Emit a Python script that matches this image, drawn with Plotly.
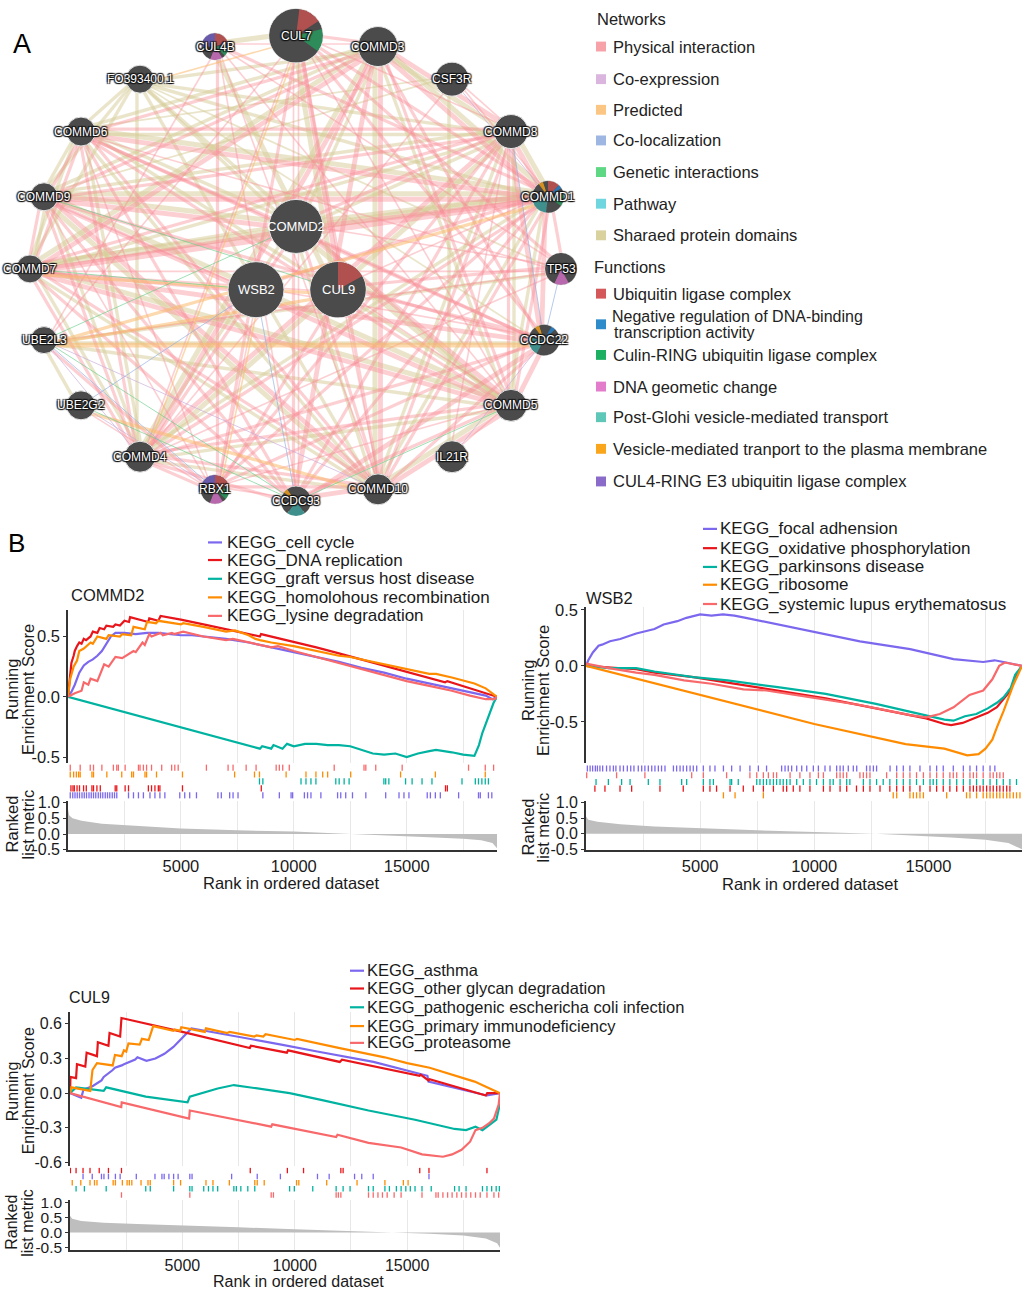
import plotly.graph_objects as go

W, H = 1024, 1296
FONT = "Liberation Sans, Arial, Helvetica, sans-serif"


def fx(p):
    return p / W


def fy(p):
    return 1 - p / H


# ====================== Panel A : GeneMANIA network ======================
NODE_NAMES = ["CUL7", "CUL4B", "COMMD3", "FO393400.1", "CSF3R", "COMMD6", "COMMD8",
              "COMMD9", "COMMD1", "COMMD2", "COMMD7", "TP53", "WSB2", "CUL9", "UBE2L3",
              "CCDC22", "UBE2G2", "COMMD5", "COMMD4", "IL21R", "RBX1", "CCDC93", "COMMD10"]
NODE_X = [296, 215, 378, 140, 452, 81, 511, 44, 548, 296, 30, 561, 256, 338, 44,
          544, 81, 511, 140, 452, 215, 296, 378]
NODE_Y = [29, 40, 40, 73, 73, 126, 126, 192, 192, 222, 265, 265, 286, 286, 337,
          337, 403, 403, 455, 455, 488, 500, 488]
NODE_R = [27, 13.5, 20, 14, 17, 14.5, 17, 14, 16, 27, 14, 16, 28, 28, 13.5,
          15.5, 14.5, 16, 15.5, 16, 14.5, 15, 15.5]
QUERY_NODES = ["COMMD2", "WSB2", "CUL9"]

COMMD_PAIRS = """COMMD1 COMMD2 3; COMMD1 COMMD3 3; COMMD1 COMMD4 2; COMMD1 COMMD5 2; COMMD1 COMMD6 3;
COMMD1 COMMD7 4; COMMD1 COMMD8 3; COMMD1 COMMD9 3; COMMD1 COMMD10 2; COMMD2 COMMD3 2; COMMD2 COMMD4 2;
COMMD2 COMMD5 3; COMMD2 COMMD6 2; COMMD2 COMMD7 2; COMMD2 COMMD8 2; COMMD2 COMMD9 3; COMMD2 COMMD10 2;
COMMD3 COMMD4 3; COMMD3 COMMD5 2; COMMD3 COMMD6 2; COMMD3 COMMD7 3; COMMD3 COMMD8 3; COMMD3 COMMD9 2;
COMMD3 COMMD10 3; COMMD4 COMMD5 2; COMMD4 COMMD6 2; COMMD4 COMMD7 2; COMMD4 COMMD8 3; COMMD4 COMMD9 2;
COMMD4 COMMD10 2; COMMD5 COMMD6 2; COMMD5 COMMD7 3; COMMD5 COMMD8 2; COMMD5 COMMD9 3; COMMD5 COMMD10 3;
COMMD6 COMMD7 2; COMMD6 COMMD8 2; COMMD6 COMMD9 2; COMMD6 COMMD10 2; COMMD7 COMMD8 2; COMMD7 COMMD9 2;
COMMD7 COMMD10 2; COMMD8 COMMD9 2; COMMD8 COMMD10 2; COMMD9 COMMD10 3"""

PHYSICAL_EXTRA = """CCDC22 COMMD1 3; CCDC22 COMMD2 2; CCDC22 COMMD3 2; CCDC22 COMMD4 2; CCDC22 COMMD5 3;
CCDC22 COMMD6 2; CCDC22 COMMD7 3; CCDC22 COMMD8 3; CCDC22 COMMD9 2; CCDC22 COMMD10 2;
CCDC93 COMMD1 2; CCDC93 COMMD2 2; CCDC93 COMMD3 3; CCDC93 COMMD4 2; CCDC93 COMMD5 2; CCDC93 COMMD6 2;
CCDC93 COMMD7 2; CCDC93 COMMD8 2; CCDC93 COMMD9 2; CCDC93 COMMD10 3; CCDC22 CCDC93 3;
CUL7 RBX1 2; CUL4B RBX1 2; CUL9 RBX1 2; CUL7 CUL9 3; CUL7 TP53 2; CUL9 TP53 2; COMMD1 TP53 2;
RBX1 UBE2L3 2; RBX1 UBE2G2 1; CUL7 UBE2L3 1; CUL4B UBE2L3 1; CUL7 COMMD1 2; CUL4B COMMD1 2;
RBX1 COMMD1 2; CUL9 COMMD1 1; CUL7 COMMD3 2; CUL4B COMMD3 1; RBX1 COMMD10 2; RBX1 COMMD4 2;
RBX1 COMMD5 1; RBX1 COMMD8 2; RBX1 COMMD6 1; RBX1 COMMD9 1; RBX1 CCDC22 2; RBX1 CCDC93 1;
CUL7 CCDC22 2; CUL4B CCDC93 1; TP53 UBE2L3 1; CUL4B TP53 1; COMMD2 CUL7 1; CUL7 COMMD8 1;
CUL7 COMMD5 1; CUL4B COMMD10 1; WSB2 RBX1 1; CSF3R COMMD8 1; CSF3R COMMD1 1; IL21R COMMD5 1;
WSB2 COMMD1 2; WSB2 CCDC22 1; WSB2 COMMD7 2; WSB2 COMMD9 1; CUL9 CCDC22 2; CUL9 COMMD5 1;
CUL9 COMMD10 1; CUL9 COMMD7 1; CUL7 COMMD4 1; CUL7 COMMD10 2; CUL4B COMMD5 1; TP53 COMMD7 1;
TP53 COMMD4 1; TP53 COMMD6 1; CUL7 CCDC93 1; COMMD2 TP53 1; IL21R COMMD8 1; CSF3R COMMD4 1"""

SHARED_EXTRA = """FO393400.1 COMMD1 2; FO393400.1 COMMD2 2; FO393400.1 COMMD3 2; FO393400.1 COMMD4 2;
FO393400.1 COMMD5 2; FO393400.1 COMMD6 2; FO393400.1 COMMD7 2; FO393400.1 COMMD8 2;
FO393400.1 COMMD9 2; FO393400.1 COMMD10 2; CUL7 CUL4B 3; CUL7 CUL9 3; CUL4B CUL9 3;
UBE2L3 UBE2G2 2; CSF3R IL21R 2; UBE2L3 CCDC22 2; UBE2L3 COMMD5 2; UBE2L3 TP53 2;
CSF3R COMMD6 1; CSF3R COMMD9 1; FO393400.1 CCDC22 1; FO393400.1 TP53 1"""

PREDICTED_EDGES = """UBE2L3 CCDC22 3; UBE2L3 COMMD1 2; UBE2G2 COMMD10 2; RBX1 WSB2 1; COMMD7 CUL9 2;
FO393400.1 CUL7 1; UBE2L3 CUL9 2; COMMD4 CUL7 1"""
GENETIC_EDGES = "COMMD9 CUL9 1; UBE2L3 CCDC93 1; COMMD7 WSB2 1; UBE2G2 CCDC93 1; CCDC93 COMMD5 1; UBE2L3 COMMD2 1"
COLOCALIZATION_EDGES = "UBE2L3 RBX1 1; UBE2G2 WSB2 1; TP53 CCDC22 1; WSB2 CCDC93 1; COMMD8 CCDC22 1"
COEXPRESSION_EDGES = "UBE2L3 COMMD4 1; UBE2G2 RBX1 1; CSF3R COMMD1 1; IL21R CCDC22 1; UBE2L3 COMMD10 1"

# function slices on nodes (fraction, function key), clockwise from 12 o'clock
NODE_SLICES = {
    "CUL7": [(0.02, "dark"), (0.14, "ubq"), (0.05, "dark"), (0.14, "culin"), (0.65, "dark")],
    "CUL4B": [(0.2, "ubq"), (0.04, "dark"), (0.13, "culin"), (0.04, "dark"), (0.15, "dna"),
              (0.19, "dark"), (0.25, "cul4")],
    "COMMD1": [(0.12, "ubq"), (0.04, "neg"), (0.06, "dark"), (0.13, "culin"), (0.17, "dark"),
               (0.18, "golgi"), (0.2, "dark"), (0.05, "vesicle"), (0.05, "dark")],
    "CUL9": [(0.17, "ubq"), (0.83, "dark")],
    "TP53": [(0.42, "dark"), (0.15, "dna"), (0.43, "dark")],
    "CCDC22": [(0.08, "dark"), (0.05, "neg"), (0.45, "dark"), (0.2, "golgi"), (0.12, "dark"),
               (0.05, "vesicle"), (0.05, "dark")],
    "RBX1": [(0.2, "ubq"), (0.04, "dark"), (0.13, "culin"), (0.04, "dark"), (0.15, "dna"),
             (0.19, "dark"), (0.25, "cul4")],
    "CCDC93": [(0.4, "dark"), (0.2, "golgi"), (0.25, "dark"), (0.05, "vesicle"), (0.1, "dark")],
}
SLICE_COLORS = {"dark": "#4b4b4b", "ubq": "#b0504f", "neg": "#2a78b5", "culin": "#2e8b5a",
                "dna": "#b868ac", "golgi": "#3f8f8d", "vesicle": "#d49020", "cul4": "#6a5aaa"}

NETWORK_LEGEND = ["Physical interaction", "Co-expression", "Predicted", "Co-localization",
                  "Genetic interactions", "Pathway", "Sharaed protein domains"]
NETWORK_COLORS = ["#f6a2a8", "#dab6de", "#fbc683", "#9db6e2", "#5ed882", "#6fd6e0", "#d9d19e"]
NETWORK_ROWS_Y = [40, 73, 104, 135, 167, 199, 231]
FUNCTION_LEGEND = ["Ubiquitin ligase complex",
                   "Negative regulation of DNA-binding\ntranscription activity",
                   "Culin-RING ubiquitin ligase complex", "DNA geometic change",
                   "Post-Glohi vesicle-mediated transport",
                   "Vesicle-mediated tranport to the plasma membrane",
                   "CUL4-RING E3 ubiquitin ligase complex"]
FUNCTION_COLORS = ["#d4575a", "#2f8ccb", "#1daf62", "#e37dcb", "#5fc7b8", "#f9a61d", "#8a6bc9"]
FUNCTION_ROWS_Y = [290, 321, 352, 384, 415, 447, 480]

# ====================== Panel B : GSEA ======================
# ---- COMMD2 ----
COMMD2_SETS = ["KEGG_cell cycle", "KEGG_DNA replication", "KEGG_graft versus host disease",
               "KEGG_homolohous recombination", "KEGG_lysine degradation"]
C2_CC_X = [0, 150, 300, 500, 700, 900, 1100, 1300, 1500, 1700, 1900, 2100, 2500, 3000, 3500, 4000,
           4500, 5000, 5500, 6000, 7000, 8000, 9000, 10000, 11000, 12000, 13000, 14000, 15000, 16000,
           17000, 18000, 18500, 18800, 19000]
C2_CC_Y = [0, 0.04, 0.10, 0.20, 0.26, 0.29, 0.31, 0.34, 0.38, 0.44, 0.50, 0.53, 0.53, 0.52, 0.53, 0.53,
           0.52, 0.51, 0.51, 0.50, 0.48, 0.45, 0.41, 0.37, 0.33, 0.29, 0.24, 0.20, 0.15, 0.11, 0.07,
           0.03, 0.01, -0.02, 0.0]
C2_DNA_X = [0, 100, 150, 250, 300, 400, 500, 600, 700, 800, 1000, 1100, 1300, 1400, 1600, 1700, 2000,
            2100, 2300, 2500, 2700, 2750, 3200, 3550, 3600, 4000, 4100, 5000, 6000, 7000, 8000, 8500,
            8550, 9000, 10000, 11000, 12000, 13000, 14000, 15000, 16000, 16700, 16800, 17500, 18000,
            18500, 19000]
C2_DNA_Y = [0, 0.20, 0.28, 0.34, 0.38, 0.42, 0.45, 0.44, 0.48, 0.47, 0.50, 0.54, 0.53, 0.57, 0.56, 0.59,
            0.58, 0.60, 0.59, 0.63, 0.62, 0.66, 0.64, 0.62, 0.65, 0.63, 0.67, 0.64, 0.60, 0.56, 0.52, 0.50,
            0.52, 0.50, 0.45, 0.41, 0.36, 0.31, 0.26, 0.21, 0.16, 0.12, 0.13, 0.09, 0.06, 0.03, 0.0]
C2_GV_X = [0, 2000, 4000, 6000, 8500, 8600, 9000, 9100, 9500, 9700, 10000, 10500, 11000, 11500, 12000,
           12500, 13000, 13500, 14000, 14500, 15000, 15500, 16000, 16300, 17000, 17500, 18000, 18200,
           18350, 18500, 18700, 18850, 19000]
C2_GV_Y = [0, -0.10, -0.20, -0.30, -0.43, -0.41, -0.43, -0.40, -0.43, -0.39, -0.41, -0.39, -0.39, -0.40,
           -0.40, -0.41, -0.44, -0.47, -0.48, -0.47, -0.50, -0.47, -0.45, -0.44, -0.46, -0.48, -0.49,
           -0.40, -0.30, -0.22, -0.12, -0.05, 0.0]
C2_HR_X = [0, 100, 250, 400, 500, 700, 1000, 1100, 1300, 1700, 1800, 2300, 2400, 2800, 2900, 3400,
           3500, 3900, 4000, 5000, 5100, 6000, 7000, 7400, 8000, 8300, 8500, 9000, 10000, 11000, 12000,
           12500, 13000, 14000, 14700, 15000, 16000, 16300, 17000, 18000, 18500, 19000]
C2_HR_Y = [0, 0.15, 0.25, 0.30, 0.38, 0.40, 0.45, 0.44, 0.50, 0.48, 0.51, 0.50, 0.52, 0.51, 0.58, 0.56,
           0.62, 0.61, 0.63, 0.60, 0.61, 0.58, 0.54, 0.55, 0.51, 0.48, 0.47, 0.45, 0.42, 0.38, 0.34, 0.33,
           0.31, 0.27, 0.24, 0.23, 0.19, 0.19, 0.16, 0.11, 0.07, 0.0]
C2_LY_X = [0, 300, 600, 700, 900, 1000, 1300, 1600, 1800, 2100, 2400, 2900, 3000, 3300, 3400, 3600,
           3700, 4100, 4200, 4600, 4700, 5100, 6000, 7000, 7300, 8000, 9000, 9300, 10000, 11000, 12000,
           13000, 14000, 15000, 16000, 17000, 17800, 18500, 18900, 19000]
C2_LY_Y = [0, 0.03, 0.05, 0.12, 0.10, 0.15, 0.13, 0.27, 0.25, 0.33, 0.32, 0.38, 0.37, 0.45, 0.43, 0.52,
           0.50, 0.53, 0.51, 0.53, 0.52, 0.54, 0.50, 0.47, 0.48, 0.45, 0.41, 0.42, 0.38, 0.33, 0.28, 0.23,
           0.18, 0.13, 0.09, 0.05, 0.01, -0.02, -0.02, 0.0]
C2_HIT_CC = [100, 210, 310, 410, 510, 620, 720, 820, 930, 1030, 1130, 1230, 1340, 1440, 1540, 1650, 1750,
             1850, 1960, 2060, 2160, 2680, 2900, 3120, 3340, 3630, 3850, 4070, 4290, 4950, 5170, 5390,
             5690, 6640, 6790, 7160, 7310, 7530, 8630, 9360, 9880, 9950, 10470, 10610, 10760, 11200,
             11940, 12080, 12300, 12600, 13190, 14070, 14660, 14880, 15100, 15910, 16050, 16270, 16490,
             17300, 18180, 18260, 18620, 18770]
C2_HIT_DNA = [130, 220, 280, 400, 510, 690, 810, 1060, 1130, 1280, 1430, 2090, 2160, 2530, 2680, 3560,
              3700, 3850, 4000, 4070, 5070, 8560, 16720, 16800]
C2_HIT_GV = [8480, 8630, 10320, 10540, 10760, 10980, 11860, 12010, 12230, 12450, 13990, 14070, 14210,
             14950, 15240, 15680, 16120, 17450, 18040, 18180, 18330, 18480, 18620]
C2_HIT_HR = [100, 250, 370, 470, 540, 1060, 1130, 1720, 2380, 2820, 2900, 3410, 3480, 3920, 5070, 7380,
             8260, 8480, 9660, 10540, 10980, 11280, 11500, 12520, 14730, 16270, 18480]
C2_HIT_LY = [100, 540, 985, 1130, 1500, 2010, 2160, 2230, 2530, 3120, 3190, 3340, 3480, 3700, 4150,
             4590, 4730, 4880, 6130, 7090, 7310, 7890, 8330, 9220, 9360, 9510, 9800, 11790, 13110,
             13190, 13630, 14800, 17740, 18480, 18850]
C2_METRIC_X = [0, 50, 200, 600, 1500, 3000, 5000, 7500, 10000, 12000, 14000, 16000, 17500, 18300,
               18800, 19000]
C2_METRIC_Y = [0.8, 0.6, 0.5, 0.42, 0.33, 0.26, 0.18, 0.12, 0.08, 0.02, -0.03, -0.10, -0.15, -0.20,
               -0.28, -0.45]

# ---- WSB2 ----
WSB2_SETS = ["KEGG_focal adhension", "KEGG_oxidative phosphorylation", "KEGG_parkinsons disease",
             "KEGG_ribosome", "KEGG_systemic lupus erythematosus"]
W2_FA_X = [0, 100, 300, 550, 700, 1050, 1500, 2200, 3000, 3400, 4000, 4400, 5000, 5500, 6000, 6500,
           7000, 8400, 9800, 12000, 14200, 16100, 17400, 17900, 18400, 19100]
W2_FA_Y = [0, 0.05, 0.12, 0.18, 0.19, 0.22, 0.24, 0.29, 0.33, 0.37, 0.40, 0.43, 0.46, 0.45, 0.46, 0.45,
           0.43, 0.37, 0.31, 0.22, 0.15, 0.06, 0.035, 0.05, 0.03, 0.0]
W2_OX_X = [0, 1000, 2200, 3000, 4700, 6200, 8400, 10500, 12700, 14900, 15700, 16000, 16500, 17100,
           17600, 18000, 18300, 18600, 18800, 19100]
W2_OX_Y = [0, -0.015, -0.03, -0.06, -0.10, -0.15, -0.22, -0.29, -0.38, -0.47, -0.52, -0.53, -0.51,
           -0.46, -0.42, -0.37, -0.30, -0.22, -0.10, 0.0]
W2_PD_X = [0, 1000, 2200, 3000, 4700, 6200, 8400, 10500, 12700, 14900, 15700, 16100, 16600, 17100,
           17600, 18000, 18300, 18600, 18800, 19100]
W2_PD_Y = [0, -0.02, -0.02, -0.05, -0.10, -0.13, -0.19, -0.25, -0.34, -0.44, -0.48, -0.49, -0.45,
           -0.43, -0.38, -0.33, -0.28, -0.20, -0.08, 0.0]
W2_RB_X = [0, 5000, 10000, 14000, 15700, 16700, 17200, 17500, 17800, 18000, 18300, 18700, 19100]
W2_RB_Y = [0, -0.26, -0.52, -0.70, -0.74, -0.80, -0.79, -0.74, -0.66, -0.55, -0.40, -0.18, 0.0]
W2_SL_X = [0, 1000, 2200, 3000, 4300, 5500, 6900, 7900, 9800, 12000, 14200, 14900, 15500, 16100,
           16800, 17400, 17800, 18100, 18350, 19100]
W2_SL_Y = [0.02, -0.02, -0.06, -0.08, -0.13, -0.16, -0.21, -0.22, -0.28, -0.35, -0.44, -0.46, -0.43,
           -0.37, -0.26, -0.22, -0.12, 0.0, 0.03, 0.0]
W2_HIT_FA = [60, 180, 290, 410, 500, 610, 730, 900, 1050, 1200, 1310, 1490, 1640, 1810, 1960, 2100,
             2290, 2440, 2580, 2730, 2880, 3020, 3170, 3310, 3460, 3830, 3970, 4120, 4260, 4410, 4560,
             4700, 4850, 5140, 5430, 5650, 6020, 6380, 6750, 7180, 7550, 7910, 8570, 8720, 8860, 9010,
             9230, 9450, 9670, 9960, 10180, 10470, 10690, 10980, 11130, 11270, 11490, 11710, 11860,
             12290, 12440, 12590, 12730, 13320, 13610, 13900, 14190, 14630, 15070, 15360, 15650, 16090,
             16530, 16820, 17110, 17400, 17700, 17910]
W2_HIT_OX = [390, 830, 1490, 2000, 3240, 4260, 5140, 5430, 5720, 6310, 6890, 7330, 7770, 8210, 8640,
             8790, 9080, 9370, 9810, 10400, 10690, 11130, 11420, 11850, 12150, 12440, 12880, 13310,
             13610, 13900, 14190, 14630, 15070, 15360, 15650, 15940, 16240, 16530, 16820, 16970, 17110,
             17260, 17400, 17550, 17700, 17840, 17990, 18130, 18280, 18430, 18570]
W2_HIT_PD = [440, 980, 1560, 1930, 2730, 3240, 4190, 4410, 5140, 5430, 5580, 6310, 6380, 6670, 7480,
             7620, 7770, 7910, 8060, 8210, 8350, 8500, 8640, 8790, 8940, 9230, 9520, 9810, 10100, 10400,
             10690, 10830, 11130, 11420, 11560, 12150, 12440, 12730, 13020, 13310, 13610, 13900, 14190,
             14480, 14780, 15070, 15210, 15360, 15650, 15940, 16240, 16530, 16820, 17110, 17400, 17700,
             17990, 18280, 18570, 18860]
W2_HIT_RB = [6020, 6530, 7770, 13460, 13610, 14190, 14340, 14480, 14630, 14780, 15800, 16670, 16820,
             17110, 17400, 17550, 17700, 17840, 17990, 18130, 18280, 18430, 18570, 18720, 18860, 19010]
W2_HIT_SL = [30, 1340, 2580, 4630, 5140, 6160, 7180, 7480, 7770, 7990, 8210, 8350, 8940, 9370, 9810,
             10180, 10400, 10980, 11130, 11270, 11420, 12000, 12150, 12290, 12440, 13170, 13610, 13900,
             14190, 14480, 14780, 15070, 15360, 15650, 15940, 16090, 16240, 16530, 16820, 16970, 17110,
             17400, 17700, 17840, 17990, 18130, 18280]
W2_METRIC_X = [0, 100, 500, 1500, 3000, 5000, 7500, 10000, 12700, 14500, 16000, 17500, 18500, 19100]
W2_METRIC_Y = [0.55, 0.45, 0.38, 0.30, 0.23, 0.17, 0.11, 0.05, 0.0, -0.07, -0.12, -0.20, -0.30, -0.50]

# ---- CUL9 ----
CUL9_SETS = ["KEGG_asthma", "KEGG_other glycan degradation", "KEGG_pathogenic escherícha coli infection",
             "KEGG_primary immunodeficiency", "KEGG_proteasome"]
CUL9_SETS[2] = "KEGG_pathogenic escherícha coli infection".replace("í", "i")
U9_AS_X = [0, 500, 600, 1000, 1400, 1500, 1900, 2000, 2300, 2400, 2900, 3000, 3400, 3800, 4200, 4600,
           5000, 5400, 6000, 7200, 8300, 9400, 11000, 12600, 13500, 15900, 15950, 18550, 19130]
U9_AS_Y = [0, -0.04, 0.03, 0.06, 0.11, 0.14, 0.20, 0.22, 0.24, 0.25, 0.29, 0.31, 0.28, 0.30, 0.34, 0.40,
           0.48, 0.56, 0.54, 0.50, 0.46, 0.42, 0.36, 0.30, 0.27, 0.15, 0.10, -0.02, 0.0]
U9_OG_X = [0, 20, 270, 310, 680, 740, 1200, 1240, 1710, 1760, 2230, 2290, 5000, 8000, 8050, 9650, 9700,
           12000, 12100, 15550, 15600, 15950, 16000, 18500, 18560, 19130]
U9_OG_Y = [0, 0.14, 0.13, 0.25, 0.23, 0.35, 0.32, 0.44, 0.41, 0.52, 0.49, 0.65, 0.53, 0.39, 0.41, 0.35,
           0.37, 0.27, 0.29, 0.15, 0.16, 0.11, 0.12, -0.02, 0.0, 0.0]
U9_EC_X = [0, 270, 1500, 1610, 3370, 4610, 5230, 5330, 5850, 6260, 6570, 7290, 8330, 9770, 11220,
           13280, 15350, 17110, 17620, 18040, 18350, 18760, 18970, 19130]
U9_EC_Y = [0, 0.05, 0.02, 0.05, -0.03, -0.06, -0.08, -0.03, 0.0, 0.02, 0.04, 0.07, 0.04, 0.0, -0.06,
           -0.15, -0.23, -0.31, -0.32, -0.29, -0.32, -0.26, -0.23, -0.09]
U9_PI_X = [0, 60, 900, 1000, 1200, 1900, 2000, 2300, 2400, 2500, 2600, 3100, 3200, 3500, 3600, 3700,
           4600, 4650, 4900, 4950, 6000, 6050, 7000, 7100, 8200, 8300, 8600, 8700, 10000, 10100, 12000,
           14000, 15000, 16000, 18000, 19130]
U9_PI_Y = [0, 0.05, 0.02, 0.20, 0.26, 0.24, 0.33, 0.32, 0.37, 0.36, 0.43, 0.42, 0.47, 0.46, 0.52, 0.58,
           0.54, 0.55, 0.54, 0.57, 0.53, 0.56, 0.52, 0.53, 0.49, 0.50, 0.49, 0.51, 0.46, 0.47, 0.39, 0.31,
           0.26, 0.22, 0.10, 0.0]
U9_PR_X = [0, 2280, 2300, 5300, 5330, 8950, 9000, 11840, 11900, 13280, 14730, 15660, 16590, 17000,
           17420, 17800, 18040, 18350, 18650, 18860, 19070, 19130]
U9_PR_Y = [0, -0.12, -0.08, -0.22, -0.15, -0.29, -0.27, -0.38, -0.36, -0.43, -0.47, -0.53, -0.55, -0.53,
           -0.49, -0.42, -0.32, -0.30, -0.26, -0.22, -0.10, 0.0]
U9_HIT_AS = [580, 990, 1400, 1510, 1710, 2020, 2230, 2950, 3780, 4090, 4190, 4400, 4610, 4810, 5330,
             5430, 7190, 8330, 9360, 11010, 11530, 12660, 12980, 13490, 15970]
U9_HIT_OG = [20, 270, 580, 890, 1300, 1710, 2290, 8020, 9670, 10390, 12050, 12150, 15560, 15970, 18550]
U9_HIT_EC = [270, 640, 1610, 3370, 3570, 4610, 5330, 5430, 5950, 6160, 6360, 6570, 7290, 7400, 7600,
             7910, 8220, 9770, 9980, 10800, 11840, 12150, 12460, 13280, 13490, 14010, 14210, 14520,
             14730, 14940, 15140, 15350, 15660, 16070, 17110, 17310, 17620, 18350, 18550, 18760, 18960,
             19100]
U9_HIT_PI = [100, 480, 890, 1090, 1200, 1920, 2020, 2330, 2540, 2640, 2750, 3160, 3470, 3570, 4610,
             4920, 6050, 6360, 7090, 8220, 8330, 8640, 10080, 10180, 11420, 12770, 14010, 14830, 15040]
U9_HIT_PR = [2290, 5330, 8950, 9050, 11840, 11940, 12050, 13280, 13490, 13700, 13900, 14110, 14420,
             14730, 15660, 16280, 16380, 16590, 16800, 17000, 17210, 17420, 17620, 17830, 18040, 18250,
             18550, 18860, 19070]
U9_METRIC_X = [0, 100, 500, 1500, 3000, 5000, 7500, 10000, 12500, 14500, 16000, 17500, 18500, 19000,
               19130]
U9_METRIC_Y = [0.55, 0.45, 0.38, 0.32, 0.28, 0.24, 0.17, 0.11, 0.05, 0.0, -0.04, -0.10, -0.20, -0.35,
               -0.50]

SET_COLORS = ["#7b68ee", "#e8161b", "#00b3a1", "#ff8c00", "#f8696b"]
X_TICKVALS = [2500, 5000, 7500, 10000, 12500, 15000, 17500]
X_TICKTEXT = ["", "5000", "", "10000", "", "15000", ""]

# ====================== build figure ======================
fig = go.Figure()
layout = dict(width=W, height=H, autosize=False, margin=dict(l=0, r=0, t=0, b=0),
              paper_bgcolor="white", plot_bgcolor="rgba(0,0,0,0)", showlegend=False,
              font=dict(family=FONT, color="#1a1a1a"))
annotations = []
shapes = []

# ---------- network ----------
layout["xaxis10"] = dict(domain=[0, fx(580)], range=[0, 580], visible=False, fixedrange=True)
layout["yaxis10"] = dict(domain=[fy(510), 1], range=[510, 0], visible=False, fixedrange=True)
pos = {n: (x, y) for n, x, y in zip(NODE_NAMES, NODE_X, NODE_Y)}


def parse_edges(s):
    out = []
    for item in s.replace("\n", " ").split(";"):
        item = item.strip()
        if item:
            a, b, w = item.split()
            out.append((a, b, float(w)))
    return out


def add_edges(edges, color, offset, wscale):
    by_w = {}
    for a, b, w in edges:
        by_w.setdefault(w, []).append((a, b))
    for w, pairs in by_w.items():
        xs, ys = [], []
        for a, b in pairs:
            (x1, y1), (x2, y2) = pos[a], pos[b]
            dx, dy = x2 - x1, y2 - y1
            L = (dx * dx + dy * dy) ** 0.5
            ox, oy = -dy / L * offset, dx / L * offset
            xs += [x1 + ox, x2 + ox, None]
            ys += [y1 + oy, y2 + oy, None]
        fig.add_trace(go.Scatter(x=xs, y=ys, mode="lines", xaxis="x10", yaxis="y10",
                                 line=dict(color=color, width=w * wscale), hoverinfo="skip",
                                 showlegend=False))


add_edges(parse_edges(COMMD_PAIRS) + parse_edges(SHARED_EXTRA), "rgba(214,204,150,0.5)", 3.0, 1.7)
add_edges(parse_edges(COMMD_PAIRS) + parse_edges(PHYSICAL_EXTRA), "rgba(248,140,150,0.42)", -2.5, 1.6)
add_edges(parse_edges(PREDICTED_EDGES), "rgba(250,185,110,0.55)", 5, 1.6)
add_edges(parse_edges(GENETIC_EDGES), "rgba(100,205,135,0.7)", 0, 0.9)
add_edges(parse_edges(COLOCALIZATION_EDGES), "rgba(140,170,225,0.7)", 0, 0.9)
add_edges(parse_edges(COEXPRESSION_EDGES), "rgba(200,165,215,0.7)", 0, 0.9)

# nodes
fig.add_trace(go.Scatter(x=NODE_X, y=NODE_Y, mode="markers", xaxis="x10", yaxis="y10",
                         marker=dict(size=[2 * r for r in NODE_R], color="#4b4b4b", opacity=1,
                                     line=dict(color="#e6e6e6", width=1)),
                         hoverinfo="skip", showlegend=False))
for name, slices in NODE_SLICES.items():
    i = NODE_NAMES.index(name)
    cx, cy, r = NODE_X[i], NODE_Y[i], NODE_R[i]
    fig.add_trace(go.Pie(values=[s[0] for s in slices],
                         marker=dict(colors=[SLICE_COLORS[s[1]] for s in slices],
                                     line=dict(width=0)),
                         domain=dict(x=[fx(cx - r), fx(cx + r)], y=[fy(cy + r), fy(cy - r)]),
                         sort=False, direction="clockwise", rotation=0, textinfo="none",
                         hoverinfo="skip", showlegend=False))

SHADOW = "1px 1px 1px #111, -1px -1px 1px #111, 1px -1px 1px #111, -1px 1px 1px #111"
for n, x, y in zip(NODE_NAMES, NODE_X, NODE_Y):
    if n in QUERY_NODES:
        f = dict(size=13, color="white", family=FONT)
    else:
        f = dict(size=12, color="white", family=FONT, shadow=SHADOW)
    annotations.append(dict(x=x, y=y, xref="x10", yref="y10", text=n, showarrow=False,
                            font=f, xanchor="center", yanchor="middle"))

# network legend
NL_FONT = 16.5
annotations.append(dict(x=fx(595), y=fy(12), xref="paper", yref="paper", text="Networks",
                        showarrow=False, xanchor="left", yanchor="middle",
                        font=dict(size=16.5, color="#222")))
annotations.append(dict(x=fx(592), y=fy(263), xref="paper", yref="paper", text="Functions",
                        showarrow=False, xanchor="left", yanchor="middle",
                        font=dict(size=16.5, color="#222")))


def legend_block(labels, colors, rows):
    for lab, col, yy in zip(labels, colors, rows):
        shapes.append(dict(type="rect", xref="paper", yref="paper", x0=fx(596), x1=fx(606),
                           y0=fy(yy + 5), y1=fy(yy - 5), fillcolor=col, line=dict(width=0)))
        lines = lab.split("\n")
        if len(lines) == 1:
            annotations.append(dict(x=fx(611), y=fy(yy), xref="paper", yref="paper", text=lab,
                                    showarrow=False, xanchor="left", yanchor="middle",
                                    font=dict(size=NL_FONT, color="#222")))
        else:
            for k, ln in enumerate(lines):
                annotations.append(dict(x=fx(610 + k * 2), y=fy(yy - 8 + k * 16), xref="paper",
                                        yref="paper", text=ln, showarrow=False, xanchor="left",
                                        yanchor="middle", font=dict(size=NL_FONT - 0.5, color="#222")))


legend_block(NETWORK_LEGEND, NETWORK_COLORS, NETWORK_ROWS_Y)
legend_block(FUNCTION_LEGEND, FUNCTION_COLORS, FUNCTION_ROWS_Y)

annotations.append(dict(x=fx(11), y=fy(37), xref="paper", yref="paper", text="A", showarrow=False,
                        xanchor="left", yanchor="middle", font=dict(size=27, color="black")))
annotations.append(dict(x=fx(6), y=fy(542), xref="paper", yref="paper", text="B", showarrow=False,
                        xanchor="left", yanchor="middle", font=dict(size=26, color="black")))


# ---------- GSEA plots ----------
def axname(n):
    return "" if n == 1 else str(n)


def vtext(x, y, text, size):
    annotations.append(dict(x=fx(x), y=fy(y), xref="paper", yref="paper", text=text,
                            showarrow=False, textangle=-90, xanchor="center", yanchor="middle",
                            font=dict(size=size, color="#1a1a1a")))


def add_gsea(idx, spec):
    gf = spec["font"]
    n_es, n_hit, n_met = 3 * idx + 1, 3 * idx + 2, 3 * idx + 3
    x0, x1 = spec["dom_x"]
    xr = [0, spec["xmax"]]
    xdom = [fx(x0), fx(x1)]
    axis_line = dict(showline=True, linecolor="#333333", linewidth=1.6)
    common_x = dict(domain=xdom, range=xr, tickvals=X_TICKVALS, ticktext=X_TICKTEXT,
                    showgrid=True, gridcolor="#e8e8e8", gridwidth=1, zeroline=False, ticks="",
                    fixedrange=True)
    layout["xaxis" + axname(n_es)] = dict(common_x, showticklabels=False, anchor="y" + axname(n_es))
    layout["yaxis" + axname(n_es)] = dict(domain=[fy(spec["es_dom"][1]), fy(spec["es_dom"][0])],
                                          range=spec["es_range"], tickvals=spec["es_ticks"],
                                          ticktext=spec["es_ticktext"], ticks="outside", ticklen=3,
                                          tickcolor="#333", tickfont=dict(size=gf, color="#1a1a1a"),
                                          showgrid=False, zeroline=False, anchor="x" + axname(n_es),
                                          fixedrange=True, **axis_line)
    layout["xaxis" + axname(n_hit)] = dict(domain=xdom, range=xr, visible=False, fixedrange=True,
                                           anchor="y" + axname(n_hit))
    layout["yaxis" + axname(n_hit)] = dict(domain=[fy(spec["hit_dom"][1]), fy(spec["hit_dom"][0])],
                                           range=[0.5, 5.5], visible=False, fixedrange=True,
                                           anchor="x" + axname(n_hit))
    layout["xaxis" + axname(n_met)] = dict(common_x, showticklabels=True,
                                           tickfont=dict(size=gf, color="#1a1a1a"),
                                           anchor="y" + axname(n_met), **axis_line)
    layout["yaxis" + axname(n_met)] = dict(domain=[fy(spec["met_dom"][1]), fy(spec["met_dom"][0])],
                                           range=spec["met_range"], tickvals=[1.0, 0.5, 0.0, -0.5],
                                           ticktext=["1.0", "0.5", "0.0", "-0.5"], ticks="outside",
                                           ticklen=3, tickcolor="#333",
                                           tickfont=dict(size=gf - 0.5, color="#1a1a1a"), showgrid=False,
                                           zeroline=False, anchor="x" + axname(n_met),
                                           fixedrange=True, **axis_line)

    fig.add_trace(go.Scatter(x=spec["met_x"], y=spec["met_y"], mode="lines", fill="tozeroy",
                             fillcolor="#bebebe", line=dict(width=0, color="#bebebe"),
                             xaxis="x" + axname(n_met), yaxis="y" + axname(n_met),
                             hoverinfo="skip", showlegend=False))
    for (cx, cy), col in zip(spec["curves"], SET_COLORS):
        fig.add_trace(go.Scatter(x=cx, y=cy, mode="lines", line=dict(color=col, width=2.2),
                                 xaxis="x" + axname(n_es), yaxis="y" + axname(n_es),
                                 hoverinfo="skip", showlegend=False))
    for row_i, set_i in enumerate(spec["row_order"]):
        row = 5 - row_i
        xs, ys = [], []
        for h in spec["hits"][set_i]:
            xs += [h, h, None]
            ys += [row - 0.45, row + 0.45, None]
        fig.add_trace(go.Scatter(x=xs, y=ys, mode="lines", line=dict(color=SET_COLORS[set_i], width=1.3),
                                 xaxis="x" + axname(n_hit), yaxis="y" + axname(n_hit),
                                 hoverinfo="skip", showlegend=False))
    lx0, lx1 = spec["leg_line_x"]
    for name, col, yy in zip(spec["names"], SET_COLORS, spec["leg_rows"]):
        shapes.append(dict(type="line", xref="paper", yref="paper", x0=fx(lx0), x1=fx(lx1),
                           y0=fy(yy), y1=fy(yy), line=dict(color=col, width=2.2)))
        annotations.append(dict(x=fx(spec["leg_text_x"]), y=fy(yy), xref="paper", yref="paper",
                                text=name, showarrow=False, xanchor="left", yanchor="middle",
                                font=dict(size=spec["leg_font"], color="#1a1a1a")))
    tx, ty = spec["title_xy"]
    annotations.append(dict(x=fx(tx), y=fy(ty), xref="paper", yref="paper", text=spec["title"],
                            showarrow=False, xanchor="left", yanchor="middle",
                            font=dict(size=gf, color="#1a1a1a")))
    xtx, xty = spec["xtitle_xy"]
    annotations.append(dict(x=fx(xtx), y=fy(xty), xref="paper", yref="paper",
                            text="Rank in ordered dataset", showarrow=False, xanchor="center",
                            yanchor="middle", font=dict(size=gf, color="#1a1a1a")))
    ya, yb = spec["ytitle_x"]
    vtext(ya, spec["ytitle_y"][0], "Running", gf)
    vtext(yb, spec["ytitle_y"][0], "Enrichment Score", gf)
    vtext(ya, spec["ytitle_y"][1], "Ranked", gf)
    vtext(yb, spec["ytitle_y"][1], "list metric", gf)


add_gsea(0, dict(
    font=16.5, leg_font=17,
    dom_x=(68, 497), es_dom=(610, 765), hit_dom=(766, 801), met_dom=(803, 853), xmax=19000,
    es_range=[-0.55, 0.72], es_ticks=[-0.5, 0.0, 0.5], es_ticktext=["-0.5", "0.0", "0.5"],
    met_range=[-0.51, 1.06], names=COMMD2_SETS,
    curves=[(C2_CC_X, C2_CC_Y), (C2_DNA_X, C2_DNA_Y), (C2_GV_X, C2_GV_Y), (C2_HR_X, C2_HR_Y),
            (C2_LY_X, C2_LY_Y)],
    hits=[C2_HIT_CC, C2_HIT_DNA, C2_HIT_GV, C2_HIT_HR, C2_HIT_LY], row_order=[4, 3, 2, 1, 0],
    met_x=C2_METRIC_X, met_y=C2_METRIC_Y, title="COMMD2", title_xy=(69, 595),
    xtitle_xy=(291, 886), ytitle_x=(12, 28), ytitle_y=(691, 827),
    leg_rows=[541.7, 559.5, 578.5, 597.3, 616], leg_line_x=(208, 222), leg_text_x=225))

add_gsea(1, dict(
    font=16.5, leg_font=17,
    dom_x=(586, 1022), es_dom=(607, 765), hit_dom=(767, 801), met_dom=(803, 853), xmax=19100,
    es_range=[-0.87, 0.527], es_ticks=[-0.5, 0.0, 0.5], es_ticktext=["-0.5", "0.0", "0.5"],
    met_range=[-0.53, 1.06], names=WSB2_SETS,
    curves=[(W2_FA_X, W2_FA_Y), (W2_OX_X, W2_OX_Y), (W2_PD_X, W2_PD_Y), (W2_RB_X, W2_RB_Y),
            (W2_SL_X, W2_SL_Y)],
    hits=[W2_HIT_FA, W2_HIT_OX, W2_HIT_PD, W2_HIT_RB, W2_HIT_SL], row_order=[0, 4, 2, 1, 3],
    met_x=W2_METRIC_X, met_y=W2_METRIC_Y, title="WSB2", title_xy=(584, 598),
    xtitle_xy=(810, 887), ytitle_x=(528, 543), ytitle_y=(692, 830),
    leg_rows=[528, 547.5, 566.5, 584.5, 604], leg_line_x=(703, 717), leg_text_x=718))

add_gsea(2, dict(
    font=16, leg_font=16.5,
    dom_x=(70, 500), es_dom=(1017, 1173), hit_dom=(1174, 1205), met_dom=(1207, 1258), xmax=19130,
    es_range=[-0.634, 0.70], es_ticks=[-0.6, -0.3, 0.0, 0.3, 0.6],
    es_ticktext=["-0.6", "-0.3", "0.0", "0.3", "0.6"], met_range=[-0.59, 1.07], names=CUL9_SETS,
    curves=[(U9_AS_X, U9_AS_Y), (U9_OG_X, U9_OG_Y), (U9_EC_X, U9_EC_Y), (U9_PI_X, U9_PI_Y),
            (U9_PR_X, U9_PR_Y)],
    hits=[U9_HIT_AS, U9_HIT_OG, U9_HIT_EC, U9_HIT_PI, U9_HIT_PR], row_order=[1, 0, 3, 2, 4],
    met_x=U9_METRIC_X, met_y=U9_METRIC_Y, title="CUL9", title_xy=(67, 1002),
    xtitle_xy=(298, 1289), ytitle_x=(12, 28), ytitle_y=(1097, 1230),
    leg_rows=[975, 993, 1012, 1031, 1048], leg_line_x=(350, 364), leg_text_x=365))

layout["annotations"] = annotations
layout["shapes"] = shapes
fig.update_layout(**layout)
fig.write_html("out.html", config={"displayModeBar": False},
               post_script="document.body.style.margin='0';document.body.style.overflow='hidden';")
